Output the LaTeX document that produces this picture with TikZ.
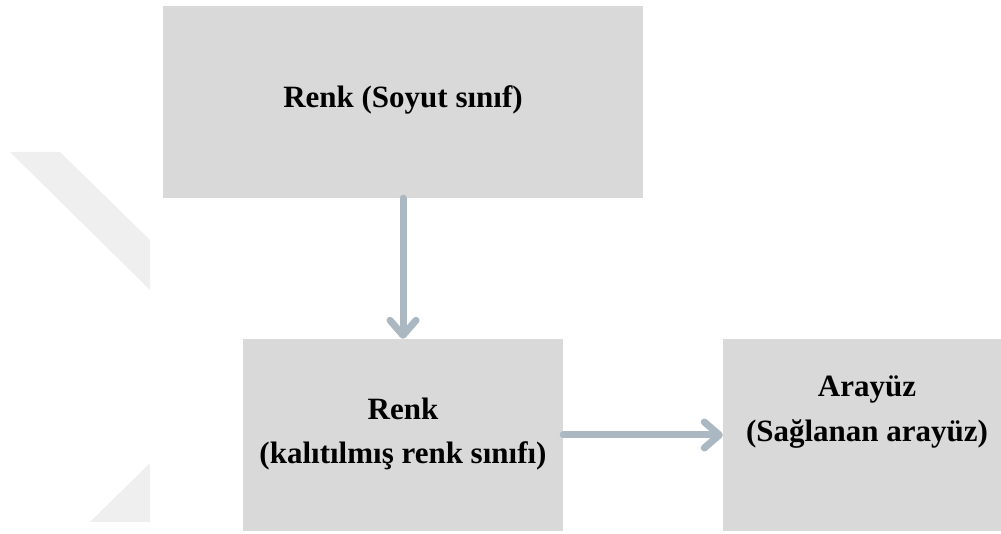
\documentclass[tikz,border=0pt]{standalone}
\usepackage{fontspec}
\setmainfont{Liberation Serif}
\usetikzlibrary{arrows.meta}
\definecolor{boxgray}{HTML}{D9D9D9}
\definecolor{arrgray}{HTML}{ABB8C2}
\definecolor{markgray}{HTML}{EFEFEF}

\begin{document}
\begin{tikzpicture}[x=1pt,y=1pt,
  box/.style={fill=boxgray,draw=none,minimum height=192pt,inner sep=0pt},
  lbl/.style={anchor=base,font=\fontsize{31}{44}\selectfont\bfseries},
  arr/.style={draw=arrgray,line width=7pt,line cap=round,
    -{Straight Barb[length=15pt,width=26pt,round]}}]
\useasboundingbox (0,0) rectangle (1001,534);
% faint watermark on the left
\fill[markgray] (10,382) -- (60,382) -- (150,294) -- (150,244) -- cycle;
\fill[markgray] (150,71) -- (90,12) -- (150,12) -- cycle;
% boxes
\node[box,minimum width=480pt] (soyut) at (403,432) {};
\node[box,minimum width=320pt] (kalit) at (403,99) {};
\node[box,minimum width=278pt] (arayuz) at (862,99) {};
% texts
\node[lbl] (soyutA) at (403,426) {Renk (Soyut sınıf)};
\node[lbl] (kalitA) at (403,114) {Renk};
\node[lbl] (kalitB) at (403,70) {(kalıtılmış renk sınıfı)};
\node[lbl] (arayuzA) at (867,137) {Arayüz};
\node[lbl] (arayuzB) at (867,92) {(Sağlanan arayüz)};
% arrows
\draw[arr] (soyut.south) -- (kalit.north);
\draw[arr] (kalit.east) -- (arayuz.west);
\end{tikzpicture}
\end{document}
